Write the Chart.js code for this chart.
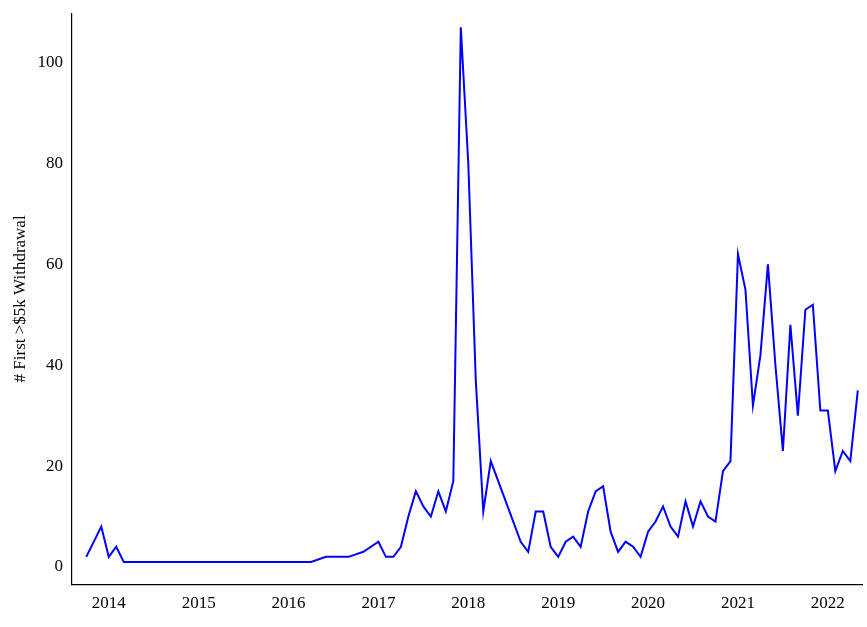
<!DOCTYPE html>
<html>
<head>
<meta charset="utf-8">
<script src="https://cdn.jsdelivr.net/npm/chart.js@4"></script>
<style>
  html, body { margin: 0; padding: 0; background: #fff; }
  #wrap { width: 867px; height: 627px; }
</style>
</head>
<body>
<div id="wrap"><canvas id="chart" width="867" height="627"></canvas></div>
<script>
// dates as decimal years (year + (month-1)/12)
const months = [
  '2013-10','2013-12','2014-01','2014-02','2014-03','2016-04','2016-06','2016-09','2016-11',
  '2017-01','2017-02','2017-03','2017-04','2017-05','2017-06','2017-07','2017-08','2017-09','2017-10','2017-11','2017-12',
  '2018-01','2018-02','2018-03','2018-04','2018-08','2018-09','2018-10','2018-11','2018-12',
  '2019-01','2019-02','2019-03','2019-04','2019-05','2019-06','2019-07','2019-08','2019-09','2019-10','2019-11','2019-12',
  '2020-01','2020-02','2020-03','2020-04','2020-05','2020-06','2020-07','2020-08','2020-09','2020-10','2020-11','2020-12',
  '2021-01','2021-02','2021-03','2021-04','2021-05','2021-06','2021-07','2021-08','2021-09','2021-10','2021-11','2021-12',
  '2022-01','2022-02','2022-03','2022-04','2022-05'
];
const withdrawals = [
  2, 8, 2, 4, 1, 1, 2, 2, 3,
  5, 2, 2, 4, 10, 15, 12, 10, 15, 11, 17, 107,
  80, 37, 11, 21, 5, 3, 11, 11, 4,
  2, 5, 6, 4, 11, 15, 16, 7, 3, 5, 4, 2,
  7, 9, 12, 8, 6, 13, 8, 13, 10, 9, 19, 21,
  62, 55, 32, 42, 60, 40, 23, 48, 30, 51, 52, 31,
  31, 19, 23, 21, 35
];
const yearTicks = [2014, 2015, 2016, 2017, 2018, 2019, 2020, 2021, 2022];
const yTicks = [0, 20, 40, 60, 80, 100];

function toYear(m) {
  const [y, mo] = m.split('-').map(Number);
  return y + (mo - 1) / 12;
}

const points = months.map((m, i) => ({x: toYear(m), y: withdrawals[i]}));
const font = {family: '"Liberation Serif", "DejaVu Serif", serif', size: 17};

new Chart(document.getElementById('chart'), {
  type: 'line',
  data: {
    datasets: [{
      data: points,
      borderColor: '#0000ff',
      borderWidth: 2,
      pointRadius: 0,
      tension: 0,
      fill: false
    }]
  },
  options: {
    responsive: false,
    animation: false,
    layout: {padding: {top: 3, right: 5, left: 6, bottom: 10}},
    plugins: {legend: {display: false}, tooltip: {enabled: false}},
    scales: {
      x: {
        type: 'linear',
        min: 2013.59,
        max: 2022.38,
        afterBuildTicks: axis => { axis.ticks = yearTicks.map(v => ({value: v})); },
        ticks: {color: '#000', font: font, callback: v => String(v), maxRotation: 0},
        grid: {display: false, drawTicks: true, tickLength: 6, tickColor: '#000'},
        border: {color: '#000', width: 1.2}
      },
      y: {
        min: -3.5,
        max: 109.8,
        afterBuildTicks: axis => { axis.ticks = yTicks.map(v => ({value: v})); },
        ticks: {color: '#000', font: font},
        grid: {display: false, drawTicks: true, tickLength: 6, tickColor: '#000'},
        border: {color: '#000', width: 1.2},
        title: {display: true, text: '# First >$5k Withdrawal', color: '#000', font: font, padding: 4}
      }
    }
  }
});
</script>
</body>
</html>
